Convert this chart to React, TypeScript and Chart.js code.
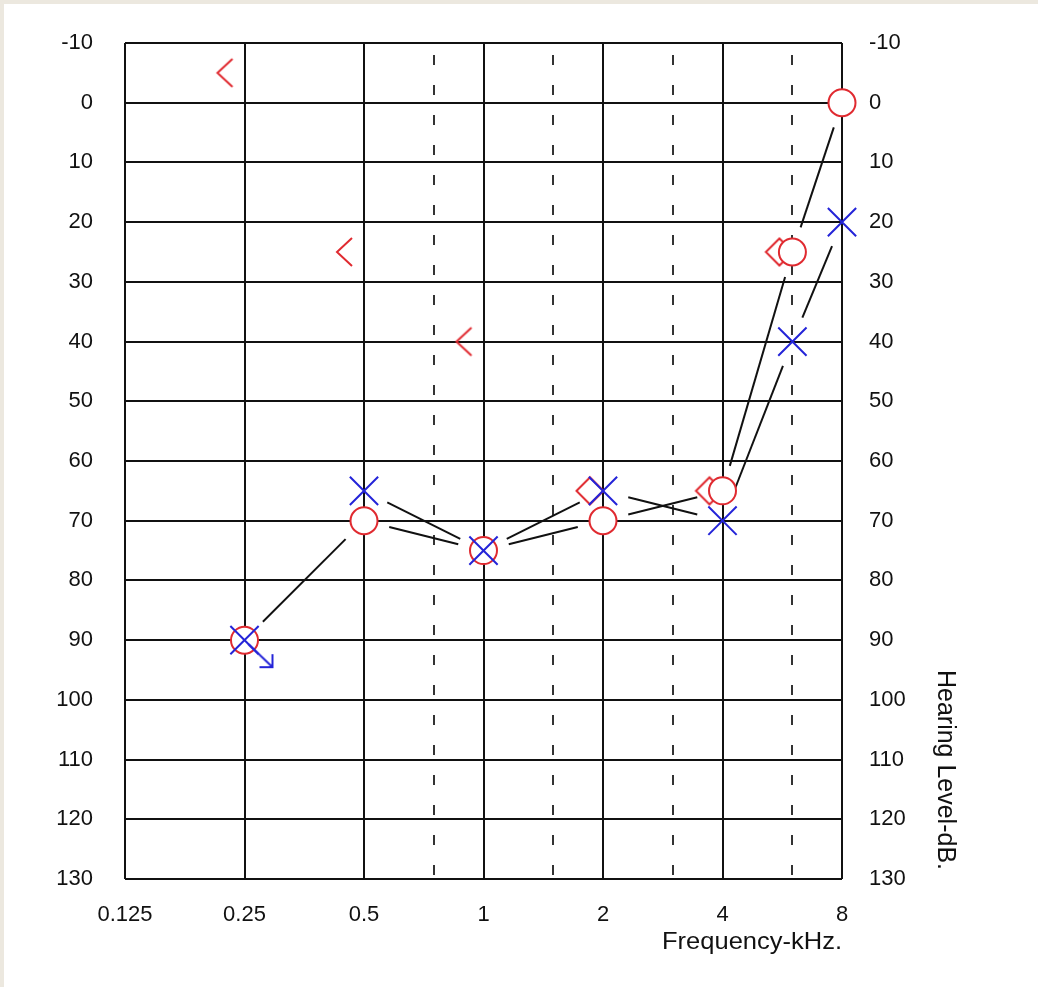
import React, { useEffect, useRef } from 'react';
import { Chart, registerables } from 'chart.js';

Chart.register(...registerables);

// ---- data ----
const frequencies = [0.25, 0.5, 1, 2, 4, 6, 8];
const rightAirDb = [90, 70, 75, 70, 65, 25, 0];
const leftAirDb = [90, 65, 75, 65, 70, 40, 20];
const leftAirNoResponse = [true, false, false, false, false, false, false];
const boneFreqs = [0.25, 0.5, 1];
const boneDb = [-5, 25, 40];
const maskedBoneFreqs = [2, 4, 6];
const maskedBoneDb = [65, 65, 25];
const octaveTicks = [0.125, 0.25, 0.5, 1, 2, 4, 8];
const octaveLabels = ['0.125', '0.25', '0.5', '1', '2', '4', '8'];
const halfOctaveTicks = [0.75, 1.5, 3, 6];
const dbMin = -10;
const dbMax = 130;
const dbStep = 10;
const xTitle = 'Frequency-kHz.';
const yTitle = 'Hearing Level-dB.';

function makeCanvas(w: number, h: number, draw: (ctx: CanvasRenderingContext2D, cx: number, cy: number) => void) {
  const c = document.createElement('canvas');
  c.width = w;
  c.height = h;
  const ctx = c.getContext('2d')!;
  draw(ctx, w / 2, h / 2);
  return c;
}

export default function App() {
  const ref = useRef<HTMLCanvasElement>(null);

  useEffect(() => {
    const canvas = ref.current!;
    const RED = '#e02a30';
    const BLUE = '#2424d8';
    const GRID = '#111111';
    const FONT = '"Liberation Sans", Arial, sans-serif';

    const boneImg = makeCanvas(64, 40, (ctx, cx, cy) => {
      ctx.strokeStyle = RED;
      ctx.lineWidth = 2;
      ctx.beginPath();
      ctx.moveTo(cx - 12, cy - 14);
      ctx.lineTo(cx - 27, cy);
      ctx.lineTo(cx - 12, cy + 14);
      ctx.stroke();
    });
    const diamondImg = makeCanvas(64, 40, (ctx, cx, cy) => {
      ctx.strokeStyle = RED;
      ctx.lineWidth = 2;
      ctx.beginPath();
      ctx.moveTo(cx - 26.5, cy);
      ctx.lineTo(cx - 13, cy - 13.5);
      ctx.lineTo(cx + 0.5, cy);
      ctx.lineTo(cx - 13, cy + 13.5);
      ctx.closePath();
      ctx.stroke();
    });
    const arrowImg = makeCanvas(80, 80, (ctx, cx, cy) => {
      ctx.strokeStyle = BLUE;
      ctx.lineWidth = 2;
      ctx.beginPath();
      ctx.moveTo(cx + 4, cy + 4);
      ctx.lineTo(cx + 28, cy + 27);
      ctx.moveTo(cx + 15, cy + 27);
      ctx.lineTo(cx + 28, cy + 27);
      ctx.lineTo(cx + 28, cy + 14);
      ctx.stroke();
    });

    const connectors = [
      { values: rightAirDb, skip: rightAirDb.map(() => false) },
      { values: leftAirDb, skip: leftAirNoResponse },
    ];
    const GAP = 26;

    const linesPlugin = {
      id: 'audioLines',
      beforeDatasetsDraw(chart: any) {
        const { ctx } = chart;
        const xs = chart.scales.x;
        const ys = chart.scales.y;
        ctx.save();
        ctx.strokeStyle = '#111';
        ctx.lineWidth = 2;
        connectors.forEach((c) => {
          for (let i = 0; i < frequencies.length - 1; i++) {
            if (c.skip[i] || c.skip[i + 1]) continue;
            const x1 = xs.getPixelForValue(frequencies[i]);
            const y1 = ys.getPixelForValue(c.values[i]);
            const x2 = xs.getPixelForValue(frequencies[i + 1]);
            const y2 = ys.getPixelForValue(c.values[i + 1]);
            const dx = x2 - x1;
            const dy = y2 - y1;
            const len = Math.hypot(dx, dy);
            if (len <= 2 * GAP) continue;
            const ux = dx / len;
            const uy = dy / len;
            ctx.beginPath();
            ctx.moveTo(x1 + ux * GAP, y1 + uy * GAP);
            ctx.lineTo(x2 - ux * GAP, y2 - uy * GAP);
            ctx.stroke();
          }
        });
        ctx.restore();
      },
    };

    const titlesPlugin = {
      id: 'audioTitles',
      afterDraw(chart: any) {
        const { ctx } = chart;
        const area = chart.chartArea;
        ctx.save();
        ctx.fillStyle = '#111';
        ctx.font = `24px ${FONT}`;
        const w1 = ctx.measureText(xTitle).width;
        ctx.translate(area.right, 945);
        ctx.scale(180 / w1, 1);
        ctx.textAlign = 'right';
        ctx.textBaseline = 'alphabetic';
        ctx.fillText(xTitle, 0, 0);
        ctx.restore();

        ctx.save();
        ctx.fillStyle = '#111';
        ctx.font = `26px ${FONT}`;
        const w2 = ctx.measureText(yTitle).width;
        ctx.translate(933.5, 666);
        ctx.rotate(Math.PI / 2);
        ctx.scale(200 / w2, 1);
        ctx.textAlign = 'left';
        ctx.textBaseline = 'alphabetic';
        ctx.fillText(yTitle, 0, 0);
        ctx.restore();
      },
    };

    const allXTicks = [...octaveTicks, ...halfOctaveTicks].sort((a, b) => a - b);
    const tickFont = { family: FONT, size: 22 };

    const chart = new Chart(canvas, {
      type: 'scatter',
      data: {
        datasets: [
          {
            label: 'Left air',
            data: frequencies.map((f, i) => ({ x: f, y: leftAirDb[i] })),
            pointStyle: 'crossRot',
            pointRadius: 20,
            borderColor: BLUE,
            pointBorderColor: BLUE,
            pointBorderWidth: 2,
            showLine: false,
            clip: false,
          } as any,
          {
            label: 'Left no response',
            data: frequencies
              .map((f, i) => ({ x: f, y: leftAirDb[i], nr: leftAirNoResponse[i] }))
              .filter((p) => p.nr)
              .map((p) => ({ x: p.x, y: p.y })),
            pointStyle: arrowImg,
            pointRadius: 20,
            showLine: false,
            clip: false,
          } as any,
          {
            label: 'Right air',
            data: frequencies.map((f, i) => ({ x: f, y: rightAirDb[i] })),
            pointStyle: 'circle',
            pointRadius: 13.5,
            borderColor: RED,
            pointBorderColor: RED,
            pointBackgroundColor: '#ffffff',
            backgroundColor: '#ffffff',
            pointBorderWidth: 2,
            showLine: false,
            clip: false,
          } as any,
          {
            label: 'Masked bone',
            data: maskedBoneFreqs.map((f, i) => ({ x: f, y: maskedBoneDb[i] })),
            pointStyle: diamondImg,
            pointRadius: 14,
            showLine: false,
            clip: false,
          } as any,
          {
            label: 'Bone',
            data: boneFreqs.map((f, i) => ({ x: f, y: boneDb[i] })),
            pointStyle: boneImg,
            pointRadius: 14,
            showLine: false,
            clip: false,
          } as any,
        ],
      },
      options: {
        animation: false,
        responsive: false,
        devicePixelRatio: 1,
        events: [],
        layout: { padding: { top: 39, left: 0, right: 0, bottom: 0 } },
        plugins: { legend: { display: false }, tooltip: { enabled: false } },
        scales: {
          x: {
            type: 'logarithmic',
            position: 'bottom',
            min: 0.125,
            max: 8,
            afterBuildTicks: (s: any) => {
              s.ticks = allXTicks.map((v) => ({ value: v }));
            },
            afterFit: (s: any) => {
              s.height = 108;
            },
            ticks: {
              autoSkip: false,
              maxRotation: 0,
              minRotation: 0,
              padding: 23,
              color: '#111',
              font: tickFont,
              callback: (v: any) => {
                const i = octaveTicks.indexOf(Number(v));
                return i >= 0 ? octaveLabels[i] : '';
              },
            },
            grid: {
              drawTicks: false,
              color: (c: any) => (c.tick && halfOctaveTicks.includes(c.tick.value) ? '#333' : GRID),
              lineWidth: 2,
            },
            border: {
              display: false,
              dash: (c: any) => (c.tick && halfOctaveTicks.includes(c.tick.value) ? [10, 20] : []),
              dashOffset: 18,
            },
          } as any,
          y: {
            type: 'linear',
            position: 'left',
            reverse: true,
            min: dbMin,
            max: dbMax,
            afterFit: (s: any) => {
              s.width = 121;
              s.paddingTop = 0;
              s.paddingBottom = 0;
            },
            ticks: { stepSize: dbStep, padding: 32, color: '#111', font: tickFont, autoSkip: false },
            grid: { drawTicks: false, color: GRID, lineWidth: 2 },
            border: { display: false },
          } as any,
          y2: {
            type: 'linear',
            position: 'right',
            reverse: true,
            min: dbMin,
            max: dbMax,
            afterFit: (s: any) => {
              s.width = 196;
              s.paddingTop = 0;
              s.paddingBottom = 0;
            },
            ticks: { stepSize: dbStep, padding: 27, color: '#111', font: tickFont, autoSkip: false },
            grid: { display: false, drawTicks: false },
            border: { display: false },
          } as any,
        },
      },
      plugins: [linesPlugin, titlesPlugin],
    } as any);

    return () => chart.destroy();
  }, []);

  return (
    <div style={{ position: 'fixed', left: 0, top: 0, width: 1038, height: 987, background: '#ECE8DF' }}>
      <canvas
        ref={ref}
        width={1034}
        height={983}
        style={{ position: 'absolute', left: 4, top: 4, width: 1034, height: 983, background: '#ffffff' }}
      />
    </div>
  );
}
